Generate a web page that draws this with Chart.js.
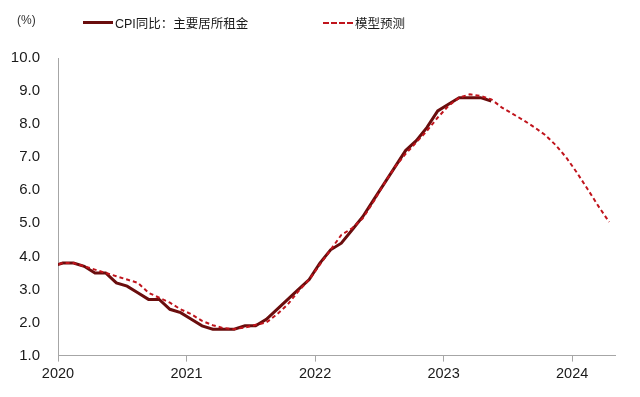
<!DOCTYPE html>
<html>
<head>
<meta charset="utf-8">
<script src="https://cdn.jsdelivr.net/npm/chart.js@4.4.1/dist/chart.umd.min.js"></script>
<style>
  html, body { margin: 0; padding: 0; background: #fff; }
  #wrap { position: relative; width: 640px; height: 397px; }
  .txt { position: absolute; font-family: "Liberation Sans", "Noto Sans CJK SC", sans-serif; font-size: 12.5px; color: #1a1a1a; white-space: nowrap; }
  .unit { left: 17px; top: 13px; font-size: 12px; color: #333; }
  .item { top: 13px; display: flex; align-items: center; }
  .swatch { display: inline-block; width: 30px; height: 0; margin-right: 2px; }
</style>
</head>
<body>
<div id="wrap">
  <canvas id="cpiRentChart" width="640" height="397"></canvas>
  <div class="txt unit">(%)</div>
  <div class="txt item" style="left:83px"><span class="swatch" style="border-top:3px solid #6a0d0d"></span>CPI同比：主要居所租金</div>
  <div class="txt item" style="left:323px"><span class="swatch" style="border-top:2px dashed #c0141c"></span>模型预测</div>
</div>
<script>
// ===============================
// Data (monthly, starting Dec 2019)
// ===============================
const yearLabels = ['2020', '2021', '2022', '2023', '2024'];

// CPI YoY: rent of primary residence (Dec 2019 - May 2023)
const cpiRent = [
  3.7,
  3.8, 3.8, 3.7, 3.5, 3.5, 3.2, 3.1, 2.9, 2.7, 2.7, 2.4, 2.3,
  2.1, 1.9, 1.8, 1.8, 1.8, 1.9, 1.9, 2.1, 2.4, 2.7, 3.0, 3.3,
  3.8, 4.2, 4.4, 4.8, 5.2, 5.7, 6.2, 6.7, 7.2, 7.5, 7.9, 8.4,
  8.6, 8.8, 8.8, 8.8, 8.7
];

// Model forecast (Dec 2019 - Apr 2024)
const modelForecast = [
  3.7,
  3.8, 3.8, 3.7, 3.6, 3.5, 3.4, 3.3, 3.2, 2.9, 2.75, 2.6, 2.4,
  2.25, 2.05, 1.92, 1.83, 1.8, 1.85, 1.93, 2.0, 2.25, 2.55, 2.95, 3.3,
  3.75, 4.2, 4.65, 4.85, 5.15, 5.65, 6.2, 6.7, 7.1, 7.45, 7.8, 8.2,
  8.55, 8.8, 8.9, 8.85, 8.75, 8.5, 8.31, 8.12, 7.91, 7.68, 7.37, 6.99,
  6.53, 6.03, 5.52, 5.04
];

const yTicks = [1, 2, 3, 4, 5, 6, 7, 8, 9, 10];

// month index relative to Jan 2020, placed mid-month
function toPoints(values) {
  return values.map((v, i) => ({ x: i - 1 + 0.45, y: v }));
}

// ===============================
// Chart
// ===============================
new Chart(document.getElementById('cpiRentChart'), {
  type: 'line',
  data: {
    datasets: [{
      label: 'CPI同比：主要居所租金',
      data: toPoints(cpiRent),
      borderColor: '#6a0d0d',
      borderWidth: 3,
      pointRadius: 0,
      tension: 0,
      clip: 0,
      order: 1
    }, {
      label: '模型预测',
      data: toPoints(modelForecast),
      borderColor: '#c0141c',
      borderWidth: 2,
      borderDash: [4, 3],
      pointRadius: 0,
      tension: 0,
      clip: 0,
      order: 0
    }]
  },
  options: {
    responsive: false,
    animation: false,
    layout: { padding: { top: 58, left: 8, right: 25, bottom: 10 } },
    plugins: { legend: { display: false }, tooltip: { enabled: false } },
    scales: {
      x: {
        type: 'linear',
        min: 0,
        max: 52,
        afterBuildTicks: (scale) => {
          scale.ticks = yearLabels.map((y, i) => ({ value: i * 12 }));
        },
        ticks: {
          callback: (v) => yearLabels[v / 12],
          color: '#1a1a1a',
          padding: 4,
          maxRotation: 0,
          font: { family: 'Liberation Sans', size: 14.5 }
        },
        grid: { display: true, drawOnChartArea: false, tickLength: 6, color: '#a6a6a6' },
        border: { display: true, color: '#a6a6a6' }
      },
      y: {
        min: 1,
        max: 10,
        afterBuildTicks: (scale) => {
          scale.ticks = yTicks.map(v => ({ value: v }));
        },
        afterFit: (scale) => { scale.width = 50; },
        ticks: {
          callback: (v) => v.toFixed(1),
          color: '#1a1a1a',
          padding: 18,
          font: { family: 'Liberation Sans', size: 15 }
        },
        grid: { display: false, drawTicks: false },
        border: { display: true, color: '#a6a6a6' }
      }
    }
  }
});
</script>
</body>
</html>
